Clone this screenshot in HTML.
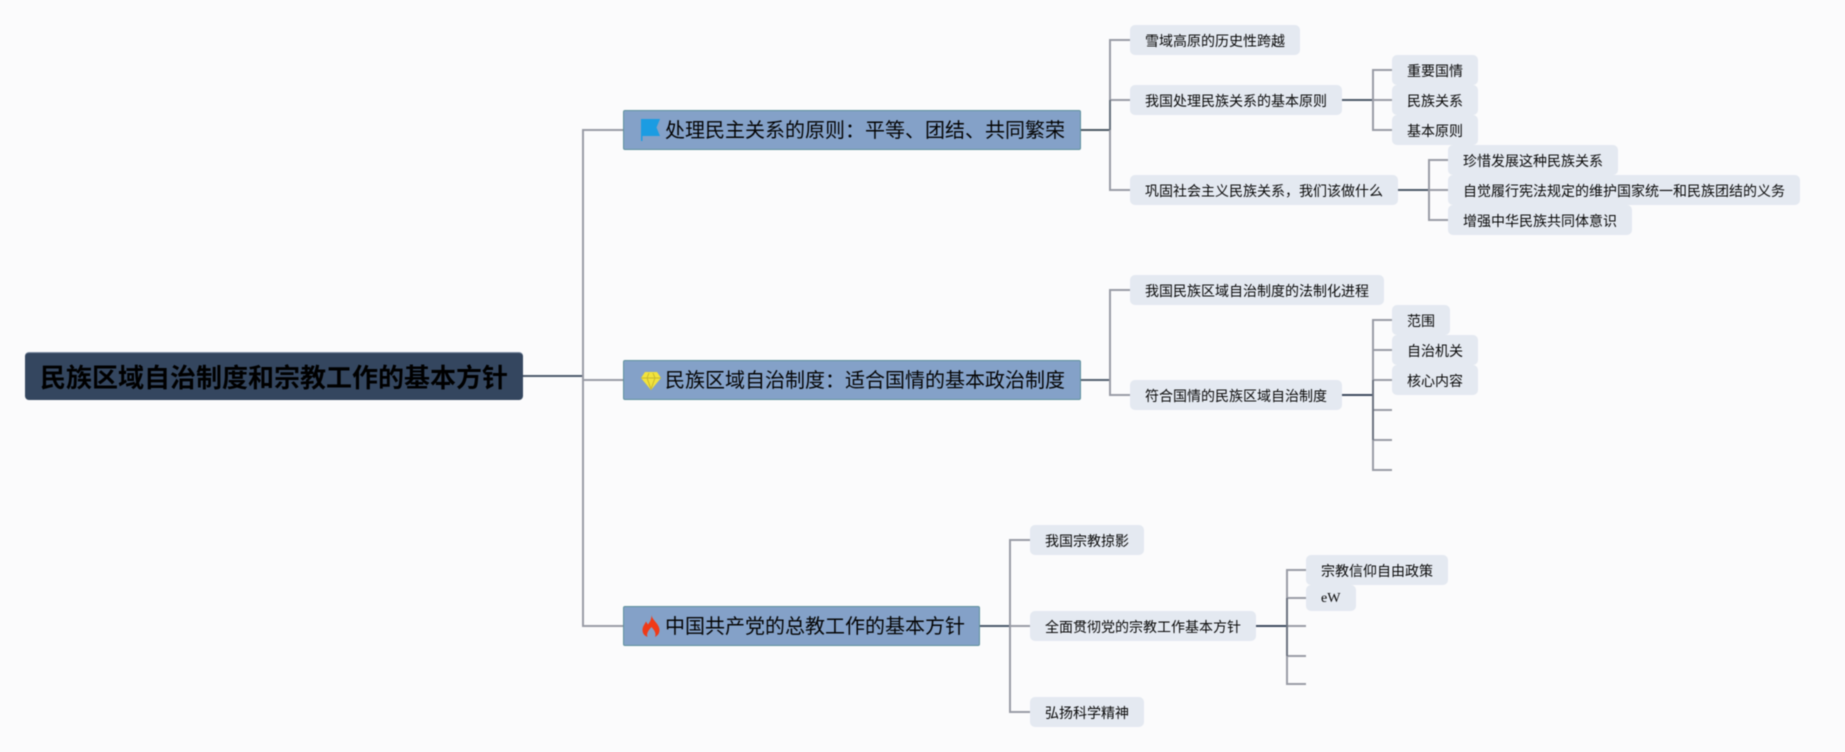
<!DOCTYPE html>
<html lang="zh"><head><meta charset="utf-8"><title>民族区域自治制度和宗教工作的基本方针</title>
<style>
html,body{margin:0;padding:0;background:#fbfbfc}
#c{position:relative;width:1845px;height:752px;overflow:hidden;background:#fbfbfc;font-family:"Liberation Sans","Noto Sans CJK SC",sans-serif;color:#111;filter:blur(.4px)}
#c svg.l{position:absolute;left:0;top:0}
.b{position:absolute;box-sizing:border-box;white-space:nowrap;height:30px;line-height:32px;font-size:14px;background:#e4e9f1;border-radius:5px;padding-left:15px;color:#0a0a0a}
.n{position:absolute;box-sizing:border-box;white-space:nowrap;height:40px;line-height:41px;font-size:20px;background:#84a1c8;border:1px solid #5f919c;border-radius:2px;padding-left:41px;color:#050505}
.r{position:absolute;box-sizing:border-box;white-space:nowrap;left:25px;top:352px;width:498px;height:48px;line-height:50px;font-size:26px;font-weight:bold;background:#34465f;border-top:1px solid #7f8ea3;border-radius:4px;padding-left:15px;color:#000}
.i{position:absolute}
</style></head><body><div id="c">
<svg class="l" width="1845" height="752" fill="none" stroke="#9a9ca6" stroke-width="2">
<path d="M523 376H583" stroke="#4d5a6c"/>
<path d="M623 130H583V626H623M583 380H623"/>
<path d="M1081 130H1110" stroke="#4f5a66"/>
<path d="M1130 40H1110V190H1130M1110 100H1130"/>
<path d="M1110 100V130" stroke="#66707c"/>
<path d="M1342 100H1373" stroke="#4f5a6a"/><path d="M1392 70H1373V130H1392M1373 100H1392"/>
<path d="M1398 190H1429" stroke="#4f5a6a"/><path d="M1448 160H1429V220H1448M1429 190H1448"/>
<path d="M1080 380H1110" stroke="#566271"/>
<path d="M1130 290H1110V395H1130"/>
<path d="M1342 395H1373" stroke="#3e4c60"/>
<path d="M1392 320H1373V470H1392M1373 350H1392M1373 380H1392M1373 410H1392M1373 440H1392"/>
<path d="M1373 380V440" stroke="#6c7380"/>
<path d="M980 626H1010" stroke="#4d5a6c"/>
<path d="M1030 540H1010V712H1030M1010 626H1030"/>
<path d="M1256 626H1287" stroke="#3e4c60"/>
<path d="M1306 570H1287V684H1306M1287 598H1306M1287 626H1306M1287 656H1306"/>
<path d="M1287 598V656" stroke="#6c7380"/>
</svg>

<div class="r">民族区域自治制度和宗教工作的基本方针</div>

<div class="n" style="left:623px;top:110px;width:458px">处理民主关系的原则&#xFF1A;平等、团结、共同繁荣</div>
<div class="n" style="left:623px;top:360px;width:458px">民族区域自治制度&#xFF1A;适合国情的基本政治制度</div>
<div class="n" style="left:623px;top:606px;width:357px">中国共产党的总教工作的基本方针</div>

<svg class="i" style="left:641px;top:118px" width="20" height="24" viewBox="0 0 20 24"><path d="M0 1H19L15.500 9.500L19 18H1.500V23H0Z" fill="#1b9ce2"/></svg>
<svg class="i" style="left:641px;top:371px" width="20" height="19" viewBox="0 0 20 19"><path d="M4 1H16L20 7L10 19L0 7Z" fill="#f2e33c"/><path d="M0 7H20M6 7L10 18L14 7M6 7L8 2M14 7L12 2" stroke="#c7b92f" stroke-width="1" fill="none"/></svg>
<svg class="i" style="left:642px;top:615px" width="18" height="22" viewBox="0 0 18 22"><path d="M9.500 0C10 5 17.500 9 17.500 15C17.500 19 15 21 13 22C14.500 18 12 15 9.500 12C7 15 4 18 5.500 22C3 21 .5 19 .5 15C.5 11 3 9 4 6.500C5 8 5.500 9 6 9.500C8 7 9.500 4 9.500 0Z" fill="#f03a17"/></svg>

<div class="b" style="left:1130px;top:25px;width:170px">雪域高原的历史性跨越</div>
<div class="b" style="left:1130px;top:85px;width:212px">我国处理民族关系的基本原则</div>
<div class="b" style="left:1130px;top:175px;width:268px">巩固社会主义民族关系&#xFF0C;我们该做什么</div>
<div class="b" style="left:1392px;top:55px;width:86px">重要国情</div>
<div class="b" style="left:1392px;top:85px;width:86px">民族关系</div>
<div class="b" style="left:1392px;top:115px;width:86px">基本原则</div>
<div class="b" style="left:1448px;top:145px;width:170px">珍惜发展这种民族关系</div>
<div class="b" style="left:1448px;top:175px;width:352px">自觉履行宪法规定的维护国家统一和民族团结的义务</div>
<div class="b" style="left:1448px;top:205px;width:184px">增强中华民族共同体意识</div>

<div class="b" style="left:1130px;top:275px;width:254px">我国民族区域自治制度的法制化进程</div>
<div class="b" style="left:1130px;top:380px;width:212px">符合国情的民族区域自治制度</div>
<div class="b" style="left:1392px;top:305px;width:58px">范围</div>
<div class="b" style="left:1392px;top:335px;width:86px">自治机关</div>
<div class="b" style="left:1392px;top:365px;width:86px">核心内容</div>

<div class="b" style="left:1030px;top:525px;width:114px">我国宗教掠影</div>
<div class="b" style="left:1030px;top:611px;width:226px">全面贯彻党的宗教工作基本方针</div>
<div class="b" style="left:1030px;top:697px;width:114px">弘扬科学精神</div>
<div class="b" style="left:1306px;top:555px;width:142px">宗教信仰自由政策</div>
<div class="b" style="left:1306px;top:585px;width:50px;height:26px;line-height:28px;font-family:'Liberation Serif',serif">eW</div>
</div></body></html>
